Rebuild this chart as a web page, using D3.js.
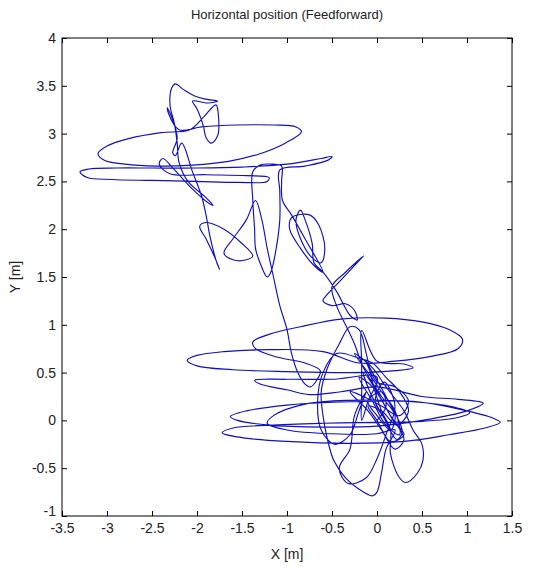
<!DOCTYPE html>
<html><head><meta charset="utf-8">
<script src="https://cdn.jsdelivr.net/npm/d3@7/dist/d3.min.js"></script>
<style>
body{margin:0;background:#fff}
text{font-family:"Liberation Sans Narrow","Arial Narrow","Liberation Sans",Arial,sans-serif;fill:#222}
</style>
</head><body>
<svg id="chart" width="535" height="567"></svg>
<script>
const titleText = "Horizontal position (Feedforward)";
const xLabelText = "X [m]";
const yLabelText = "Y [m]";
const xTicks = [-3.5,-3,-2.5,-2,-1.5,-1,-0.5,0,0.5,1,1.5];
const yTicks = [-1,-0.5,0,0.5,1,1.5,2,2.5,3,3.5,4];
const xDomain = [-3.5, 1.5];
const yDomain = [-1, 4];

// trajectory [x, y] in metres
const trajectory = [
 [0.0,0.0],[0.1,0.15],[0.05,0.3],[-0.1,0.2],[0.0,0.05],[0.15,-0.1],[0.2,0.05],[0.05,0.25],
 [-0.15,0.55],[-0.25,0.8],[-0.35,1.0],[-0.45,1.2],[-0.5,1.4],
 [-0.35,1.55],[-0.2,1.68],[-0.15,1.72],[-0.22,1.65],[-0.42,1.45],[-0.55,1.32],[-0.6,1.25],[-0.5,1.2],[-0.35,1.22],[-0.25,1.15],[-0.22,1.05],[-0.3,1.1],[-0.45,1.35],[-0.6,1.55],
 [-0.7,1.65],[-0.72,1.85],[-0.8,2.1],[-0.85,2.2],[-0.9,2.1],[-0.85,1.9],[-0.72,1.7],[-0.62,1.65],[-0.58,1.8],[-0.65,2.05],[-0.75,2.15],[-0.95,2.12],[-0.97,2.0],[-0.85,1.8],[-0.7,1.62],[-0.6,1.55],
 [-0.8,1.9],[-0.95,2.15],[-1.05,2.3],[-1.06,2.5],[-1.06,2.66],
 [-1.15,2.68],[-1.3,2.67],[-1.38,2.6],[-1.38,2.3],[-1.36,2.0],[-1.35,1.8],[-1.3,1.65],[-1.22,1.5],[-1.18,1.55],[-1.12,1.8],[-1.08,2.1],[-1.08,2.4],[-1.08,2.62],
 [-0.8,2.66],[-0.55,2.72],[-0.5,2.76],[-0.62,2.74],[-1.0,2.68],[-1.5,2.65],[-2.0,2.64],[-2.5,2.64],[-2.9,2.64],[-3.2,2.63],[-3.3,2.6],[-3.22,2.54],[-2.95,2.52],[-2.5,2.51],[-2.0,2.5],[-1.55,2.49],[-1.22,2.5],[-1.2,2.54],[-1.45,2.56],[-1.9,2.57],[-2.3,2.58],
 [-2.42,2.68],[-2.38,2.74],[-2.25,2.62],[-2.05,2.42],[-1.88,2.28],[-1.82,2.25],[-1.9,2.33],[-2.1,2.5],[-2.2,2.7],
 [-2.22,2.9],[-2.25,3.1],[-2.3,3.3],[-2.28,3.48],[-2.24,3.52],[-2.15,3.46],[-2.02,3.39],[-1.9,3.36],[-1.77,3.34],[-1.88,3.32],[-2.05,3.34],[-2.0,3.26],[-1.93,3.08],[-1.9,2.96],[-1.84,2.9],[-1.77,2.98],[-1.76,3.16],[-1.79,3.3],[-1.92,3.18],[-2.08,3.04],
 [-2.4,3.01],[-2.75,2.95],[-3.0,2.87],[-3.1,2.79],[-3.03,2.72],[-2.8,2.68],[-2.45,2.66],[-2.05,2.67],[-1.65,2.71],[-1.3,2.79],[-1.02,2.9],[-0.84,3.02],[-0.9,3.07],[-1.15,3.09],[-1.55,3.09],[-1.95,3.07],[-2.2,3.04],
 [-2.32,3.22],[-2.33,3.27],[-2.26,3.12],[-2.22,2.95],[-2.27,2.8],[-2.24,2.77],[-2.17,2.9],
 [-2.05,2.6],[-1.95,2.35],[-1.9,2.15],[-1.85,1.9],[-1.78,1.65],[-1.75,1.58],[-1.8,1.7],[-1.9,1.9],[-1.97,2.03],[-1.9,2.07],[-1.7,2.0],[-1.5,1.85],[-1.38,1.72],[-1.45,1.68],[-1.6,1.68],[-1.7,1.75],[-1.6,1.9],[-1.45,2.1],[-1.35,2.3],
 [-1.28,2.1],[-1.22,1.8],[-1.15,1.5],[-1.08,1.2],[-1.0,0.95],[-0.95,0.7],[-0.88,0.5],[-0.8,0.38],[-0.74,0.35],[-0.67,0.42],[-0.63,0.52],
 [-0.8,0.6],[-1.1,0.66],[-1.35,0.75],[-1.38,0.82],[-1.2,0.9],[-0.85,0.98],[-0.4,1.06],[0.1,1.07],[0.5,1.03],[0.8,0.95],[0.95,0.85],[0.9,0.75],[0.6,0.67],[0.2,0.62],[-0.2,0.6],
 [-0.6,0.72],[-1.2,0.74],[-1.7,0.72],[-2.0,0.68],[-2.11,0.63],[-2.0,0.57],[-1.6,0.53],[-1.0,0.51],[-0.3,0.5],[0.2,0.52],[0.4,0.55],[0.3,0.59],[0.0,0.62],
 [-0.17,0.94],[-0.17,0.6],[-0.17,0.3],[-0.17,0.0],[-0.1,0.2],[0.0,0.45],
 [-0.5,0.43],[-1.0,0.43],[-1.36,0.42],[-1.3,0.38],[-1.0,0.32],[-0.75,0.27],[-0.4,0.3],[0.0,0.35],
 [0.5,0.25],[0.9,0.22],[1.18,0.18],[1.0,0.1],[0.5,0.0],[0.0,-0.06],[-0.6,-0.07],[-1.2,-0.05],[-1.55,0.0],[-1.63,0.04],[-1.45,0.1],[-1.0,0.16],[-0.5,0.19],[0.0,0.2],[0.4,0.2],
 [0.9,0.12],[1.3,0.02],[1.37,-0.02],[1.2,-0.08],[0.8,-0.15],[0.3,-0.22],[-0.3,-0.24],[-1.0,-0.22],[-1.5,-0.18],[-1.72,-0.13],[-1.6,-0.08],[-1.2,-0.05],[-0.6,-0.03],[0.0,-0.02],[0.5,-0.01],
 [0.9,0.03],[1.03,0.08],[0.8,0.15],[0.3,0.2],[-0.3,0.21],[-0.8,0.17],[-1.15,0.05],[-1.22,-0.03],[-1.0,-0.1],[-0.5,-0.14],[0.0,-0.14],[0.2,-0.1],
 [0.1,-0.3],[0.05,-0.55],[0.0,-0.75],[-0.05,-0.79],[-0.2,-0.72],[-0.35,-0.6],[-0.48,-0.42],[-0.55,-0.2],[-0.6,0.05],[-0.62,0.3],[-0.55,0.55],[-0.42,0.8],[-0.3,0.98],[-0.2,0.95],[-0.12,0.7],[-0.05,0.4],[0.05,0.1],[0.15,-0.1],
 [0.15,-0.35],[0.25,-0.6],[0.32,-0.65],[0.45,-0.55],[0.51,-0.42],[0.5,-0.25],[0.4,-0.1],[0.3,0.1],
 [0.1,0.35],[-0.05,0.55],[-0.25,0.7],[-0.1,0.5],[0.05,0.3],[0.2,0.1],[0.25,-0.15],[0.1,-0.05],[-0.05,0.2],[-0.2,0.45],[-0.05,0.35],[0.15,0.05],[0.3,-0.2],[0.2,-0.3],[0.05,-0.1],[-0.1,0.1],[-0.3,0.3],[-0.15,0.25],[0.05,0.15],[0.25,0.05],[0.35,0.2],[0.2,0.35],[0.0,0.4],
 [-0.12,0.62],[-0.05,0.5],[0.1,0.25],[0.28,-0.12],[0.22,-0.2],[0.08,0.02],[-0.08,0.3],[-0.15,0.5],[0.0,0.3],[0.18,0.0],[0.3,-0.15],[0.15,-0.22],[0.0,0.0],[-0.1,0.15],[0.05,0.1],[0.22,-0.05],[0.35,0.1],[0.25,0.3],[0.1,0.45],[-0.05,0.6],[-0.2,0.65],
 [-0.45,0.7],[-0.6,0.5],[-0.66,0.2],[-0.62,-0.1],[-0.47,-0.25],[-0.3,-0.15],[-0.2,0.1],[-0.12,0.3],[-0.25,0.05],[-0.3,-0.3],[-0.42,-0.5],[-0.32,-0.66],[-0.12,-0.6],[0.0,-0.4],[0.1,-0.15],[0.2,0.15],[0.08,0.4],[-0.02,0.2],[0.12,-0.02]
];

const W = 535, H = 567;
const M = {left: 62, right: 23, top: 38, bottom: 51};
const FONT = '"Liberation Sans Narrow","Arial Narrow","Liberation Sans",Arial,sans-serif';
const svg = d3.select("#chart");
const x = d3.scaleLinear().domain(xDomain).range([M.left, W - M.right]);
const y = d3.scaleLinear().domain(yDomain).range([H - M.bottom, M.top]);
const fmt = d => String(d);

const plot = svg.append("g");
plot.append("clipPath").attr("id","clip").append("rect")
  .attr("x", x(xDomain[0])).attr("y", y(yDomain[1]))
  .attr("width", x(xDomain[1]) - x(xDomain[0])).attr("height", y(yDomain[0]) - y(yDomain[1]));

plot.append("path")
  .datum(trajectory)
  .attr("clip-path","url(#clip)")
  .attr("fill","none")
  .attr("stroke","#1010c0")
  .attr("stroke-width",1.15)
  .attr("d", d3.line().x(d => x(d[0])).y(d => y(d[1])).curve(d3.curveCatmullRom.alpha(0.5)));

function styleAxis(g){
  g.select(".domain").remove();
  g.selectAll(".tick line").attr("stroke","#000");
  g.selectAll("text").attr("font-size",14).attr("fill","#222").style("font-family",FONT);
}
svg.append("g").attr("transform",`translate(0,${y(yDomain[0])})`)
  .call(d3.axisBottom(x).tickValues(xTicks).tickFormat(fmt).tickSizeInner(-5).tickSizeOuter(0).tickPadding(7)).call(styleAxis);
svg.append("g").attr("transform",`translate(0,${y(yDomain[1])})`)
  .call(d3.axisTop(x).tickValues(xTicks).tickFormat("").tickSizeInner(-5).tickSizeOuter(0)).call(styleAxis);
const yAxisG = svg.append("g").attr("transform",`translate(${x(xDomain[0])},0)`)
  .call(d3.axisLeft(y).tickValues(yTicks).tickFormat(fmt).tickSizeInner(-5).tickSizeOuter(0).tickPadding(6)).call(styleAxis);
// lift the lowest Y label slightly so it clears the first X label (as in the reference)
yAxisG.selectAll(".tick").filter(d => d === yDomain[0]).select("text").attr("y", -5);
svg.append("g").attr("transform",`translate(${x(xDomain[1])},0)`)
  .call(d3.axisRight(y).tickValues(yTicks).tickFormat("").tickSizeInner(-5).tickSizeOuter(0)).call(styleAxis);

svg.append("rect")
  .attr("x", x(xDomain[0])).attr("y", y(yDomain[1]))
  .attr("width", x(xDomain[1]) - x(xDomain[0])).attr("height", y(yDomain[0]) - y(yDomain[1]))
  .attr("fill","none").attr("stroke","#000").attr("stroke-width",1);

svg.append("text").attr("x", (x(xDomain[0]) + x(xDomain[1])) / 2).attr("y", 19)
  .attr("text-anchor","middle").attr("font-size",13).text(titleText);
svg.append("text").attr("x", (x(xDomain[0]) + x(xDomain[1])) / 2).attr("y", 559)
  .attr("text-anchor","middle").attr("font-size",14).text(xLabelText);
svg.append("text").attr("transform",`translate(20,${(y(yDomain[0]) + y(yDomain[1])) / 2}) rotate(-90)`)
  .attr("text-anchor","middle").attr("font-size",14).text(yLabelText);
</script>
</body></html>
